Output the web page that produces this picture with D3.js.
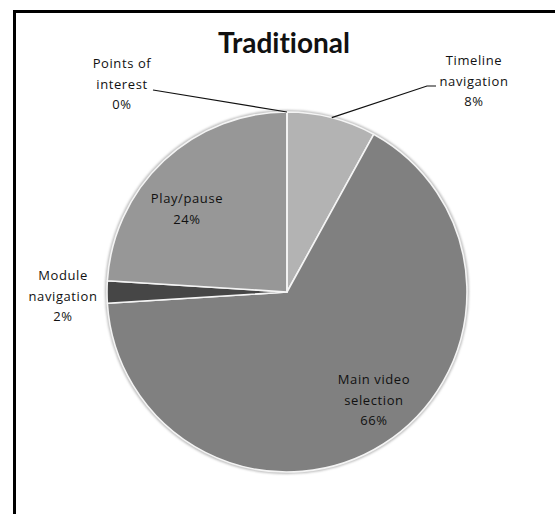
<!DOCTYPE html>
<html>
<head>
<meta charset="utf-8">
<script src="https://cdn.jsdelivr.net/npm/d3@7"></script>
<style>
  html, body { margin: 0; padding: 0; background: #fff; }
  svg { display: block; }
  .lbl { font-family: "Open Sans", sans-serif; font-size: 13px; letter-spacing: 0.6px; fill: #111; }
  .title { font-family: Lato, sans-serif; font-weight: bold; font-size: 28px; fill: #111;
           font-variant-ligatures: none; font-feature-settings: "liga" 0; }
</style>
</head>
<body>
<svg id="chart" width="555" height="514"></svg>
<script>
// Share of interactions, clockwise from 12 o'clock
const categories = ["Timeline navigation", "Main video selection", "Module navigation", "Play/pause", "Points of interest"];
const shares = [8, 66, 2, 24, 0];
const labelLines = [["Timeline", "navigation"], ["Main video", "selection"], ["Module", "navigation"], ["Play/pause"], ["Points of", "interest"]];
const sliceColors = ["#b3b3b3", "#808080", "#464646", "#979797", "#8c8c8c"];
const title = "Traditional";

const W = 555, H = 514;
const cx = 287, cy = 292, R = 180;

// Label block centres (x, first baseline) and leader-line starting points
const labelLayout = [
  { x: 474, y: 65, leader: [[436, 86], [427, 86]] },
  { x: 374, y: 384 },
  { x: 63, y: 280 },
  { x: 187, y: 203 },
  { x: 122, y: 68, leader: [[153, 90]] }
];
const lineGap = 20.5;

const svg = d3.select("#chart");
svg.append("rect").attr("width", W).attr("height", H).attr("fill", "#fff");

// Frame (top and left edges)
svg.append("path")
  .attr("d", `M14.5,${H} V11.5 H${W}`)
  .attr("fill", "none").attr("stroke", "#000").attr("stroke-width", 3);

svg.append("text").attr("class", "title")
  .attr("x", 284).attr("y", 53).attr("text-anchor", "middle").text(title);

const defs = svg.append("defs");
defs.append("filter").attr("id", "soft")
  .attr("x", "-10%").attr("y", "-10%").attr("width", "120%").attr("height", "120%")
  .append("feGaussianBlur").attr("stdDeviation", 1.2);

const g = svg.append("g").attr("transform", `translate(${cx},${cy})`);

// Soft rim around the pie
g.append("circle").attr("r", R + 0.5)
  .attr("fill", "none").attr("stroke", "#bdbdbd").attr("stroke-width", 3)
  .attr("filter", "url(#soft)");

const pie = d3.pie().sort(null).value(d => d).startAngle(0).endAngle(2 * Math.PI);
const arcs = pie(shares);
const arc = d3.arc().innerRadius(0).outerRadius(R);

g.selectAll("path.slice").data(arcs).join("path")
  .attr("class", "slice")
  .attr("d", arc)
  .attr("fill", (d, i) => sliceColors[i])
  .attr("stroke", "#f4f4f4").attr("stroke-width", 1.6).attr("stroke-linejoin", "round");

// Leader lines from outside labels to the slice rim
arcs.forEach((d, i) => {
  const lay = labelLayout[i];
  if (!lay.leader) return;
  const mid = (d.startAngle + d.endAngle) / 2;
  const end = [cx + R * Math.sin(mid), cy - R * Math.cos(mid)];
  const pts = lay.leader.concat([end]);
  svg.append("path")
    .attr("d", d3.line()(pts))
    .attr("fill", "none").attr("stroke", "#111").attr("stroke-width", 1.2);
});

// Category and percentage labels
arcs.forEach((d, i) => {
  const lay = labelLayout[i];
  const lines = labelLines[i].concat([d3.format(".0f")(shares[i]) + "%"]);
  const t = svg.append("text").attr("class", "lbl").attr("text-anchor", "middle");
  lines.forEach((s, k) => {
    t.append("tspan").attr("x", lay.x).attr("y", lay.y + k * lineGap).text(s);
  });
});
</script>
</body>
</html>
